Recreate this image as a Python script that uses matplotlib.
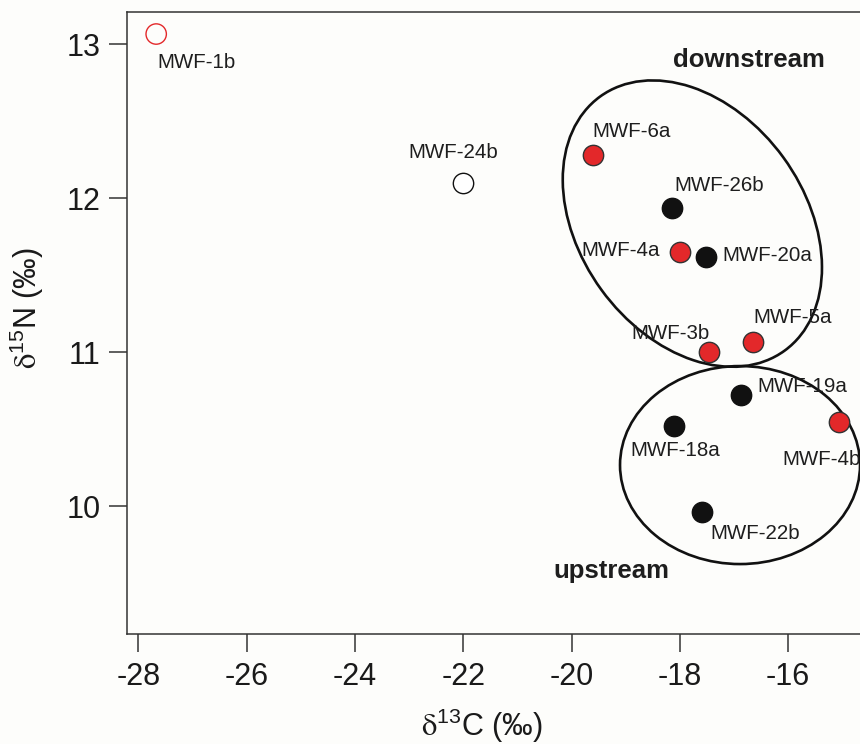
import matplotlib
matplotlib.use("Agg")
import matplotlib.pyplot as plt
from matplotlib.patches import Ellipse
from matplotlib.transforms import ScaledTranslation

plt.rcParams['font.family'] = ['Liberation Sans', 'DejaVu Sans']
plt.rcParams['mathtext.fontset'] = 'stix'
plt.rcParams['mathtext.default'] = 'regular'

# ---- data ----
labels = ["MWF-1b", "MWF-24b", "MWF-6a", "MWF-26b", "MWF-4a", "MWF-20a",
          "MWF-3b", "MWF-5a", "MWF-19a", "MWF-18a", "MWF-4b", "MWF-22b"]
d13C = [-27.67, -22.0, -19.61, -18.15, -18.0, -17.52,
        -17.47, -16.65, -16.88, -18.1, -15.07, -17.6]
d15N = [13.065, 12.10, 12.28, 11.935, 11.65, 11.62,
        11.0, 11.065, 10.72, 10.52, 10.545, 9.96]
kind = ["open_red", "open_black", "red", "black", "red", "black",
        "red", "red", "black", "black", "red", "black"]
x_ticks = [-28, -26, -24, -22, -20, -18, -16]
y_ticks = [10, 11, 12, 13]
group_names = ["downstream", "upstream"]
group_centers_x = [-17.77, -16.89]
group_centers_y = [11.834, 10.266]

# ---- styles ----
RED = "#e3282a"
BLACK = "#111111"
EDGE = "#333333"
BG = "#fdfdfb"
# label offsets in pixels (dx, dy up-positive) and alignment
label_style = {
    "MWF-1b": (1, -28, "left"),
    "MWF-24b": (-10, 30, "center"),
    "MWF-6a": (0, 23, "left"),
    "MWF-26b": (3, 23, "left"),
    "MWF-4a": (-20, 1, "right"),
    "MWF-20a": (16, 1, "left"),
    "MWF-3b": (1, 19, "right"),
    "MWF-5a": (0, 25, "left"),
    "MWF-19a": (17, 9, "left"),
    "MWF-18a": (1, -25, "center"),
    "MWF-4b": (-56, -37, "left"),
    "MWF-22b": (9, -21, "left"),
}

W, H = 860, 744
fig = plt.figure(figsize=(W / 100, H / 100), dpi=100, facecolor=BG)
ax = fig.add_axes([127 / W, 1 - 634 / H, (870 - 127) / W, (634 - 11.7) / H])
ax.set_facecolor(BG)

ax.set_xlim(-28.209, -14.49)
ax.set_ylim(9.169, 13.21)

for lab, x, y, k in zip(labels, d13C, d15N, kind):
    if k == "open_red":
        fc, ec = "none", RED
    elif k == "open_black":
        fc, ec = "white", BLACK
    elif k == "red":
        fc, ec = RED, EDGE
    else:
        fc, ec = BLACK, BLACK
    ax.scatter([x], [y], s=215, facecolors=fc, edgecolors=ec, linewidths=1.0, zorder=3)
    dx, dy, ha = label_style[lab]
    ax.annotate(lab, (x, y), xytext=(dx, dy), textcoords="offset pixels",
                ha=ha, va="center", fontsize=14.8, color="#1e1e1e", zorder=4)

# group ellipses (size in inches, positioned at data centers)
ell_sizes = [(3.14, 2.25, -54), (2.40, 1.98, 0)]
for (cx, cy), (w, h, ang) in zip(zip(group_centers_x, group_centers_y), ell_sizes):
    tr = fig.dpi_scale_trans + ScaledTranslation(cx, cy, ax.transData)
    e = Ellipse((0, 0), w, h, angle=ang, transform=tr, fill=False,
                edgecolor="#111111", linewidth=1.9, zorder=2)
    ax.add_patch(e)

ax.text(749 / W, 1 - 60 / H, group_names[0], transform=fig.transFigure,
        ha="center", va="center", fontsize=18.5, fontweight="bold", color="#1e1e1e")
ax.text(611 / W, 1 - 571 / H, group_names[1], transform=fig.transFigure,
        ha="center", va="center", fontsize=18.5, fontweight="bold", color="#1e1e1e")

ax.set_xticks(x_ticks)
ax.set_yticks(y_ticks)
ax.set_xticklabels([str(t) for t in x_ticks])
ax.set_yticklabels([str(t) for t in y_ticks])
ax.tick_params(axis="both", direction="out", length=13, width=1.1, color="#333333",
               labelsize=22, labelcolor="#1a1a1a", pad=6)
ax.tick_params(axis="x", pad=7)
for s in ["left", "bottom", "top"]:
    ax.spines[s].set_color("#333333")
    ax.spines[s].set_linewidth(1.1)
ax.spines["right"].set_visible(False)

ax.set_xlabel(r"$\mathrm{\delta}^{\mathregular{13}}$C (‰)", fontsize=22, color="#1a1a1a")
ax.set_ylabel(r"$\mathrm{\delta}^{\mathregular{15}}$N (‰)", fontsize=22, color="#1a1a1a")
ax.xaxis.set_label_coords(482 / W, 1 - 726 / H, transform=fig.transFigure)
ax.yaxis.set_label_coords(27 / W, 1 - 308 / H, transform=fig.transFigure)
ax.xaxis.label.set_va("center")
ax.yaxis.label.set_va("center")

fig.savefig("out.png", dpi=100, facecolor=BG)
